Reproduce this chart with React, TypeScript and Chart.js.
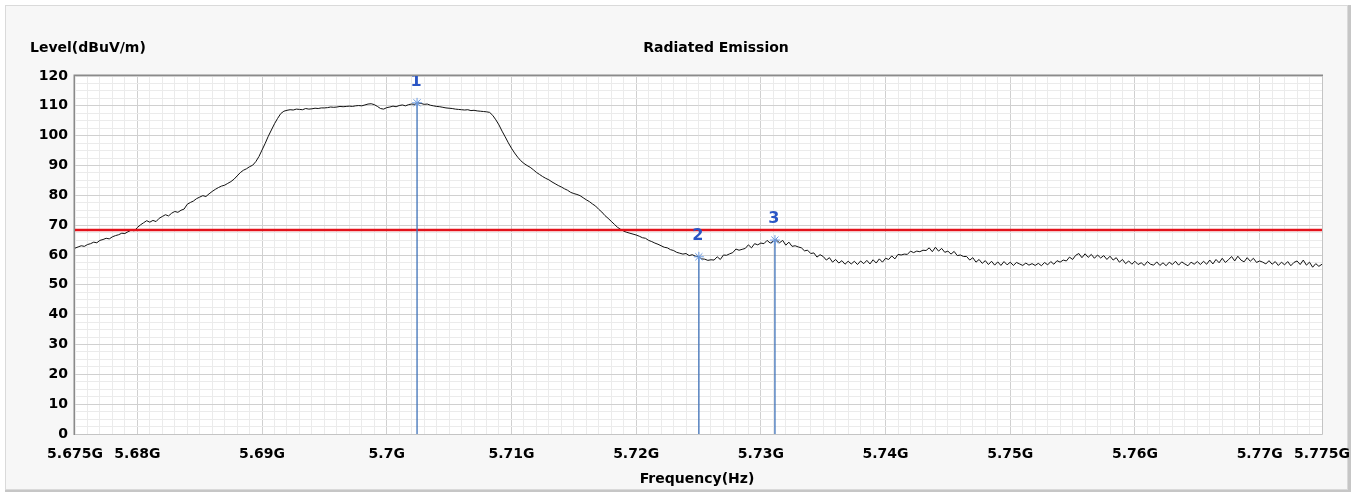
import { useEffect, useRef } from "react";
import { Chart, registerables } from "chart.js";

Chart.register(...registerables);

// ---- data ----
const FREQ_START = 5.675; // GHz, first sample of the trace
const FREQ_STEP = 0.00025; // GHz between samples
const LEVEL_TRACE = [
  62.3, 62.7, 63.1, 62.9, 63.5, 63.8, 64.3, 64.1, 64.9, 65.2, 65.6, 65.4, 66.1, 66.5, 66.8, 67.3, 67.2, 67.8, 68.3, 68.1,
  69.2, 70.1, 70.8, 71.5, 71.0, 71.6, 71.2, 72.3, 72.9, 73.5, 73.1, 74.0, 74.6, 74.3, 75.0, 75.4, 77.0, 77.6, 78.1, 78.9,
  79.4, 79.9, 79.6, 80.5, 81.3, 82.0, 82.6, 83.1, 83.4, 84.0, 84.6, 85.4, 86.5, 87.6, 88.4, 88.9, 89.6, 90.1, 91.3, 93.0,
  95.2, 97.4, 99.8, 101.9, 104.0, 105.8, 107.4, 108.2, 108.5, 108.7, 108.6, 108.9, 108.8, 108.7, 109.1, 108.9, 109.0, 109.2, 109.1, 109.3,
  109.3, 109.4, 109.6, 109.5, 109.6, 109.8, 109.7, 109.8, 109.9, 109.8, 110.0, 110.1, 110.0, 110.3, 110.6, 110.7, 110.4, 109.8, 109.1, 108.9,
  109.4, 109.6, 109.9, 109.7, 110.1, 110.3, 110.0, 110.4, 110.6, 110.5, 111.0, 110.8, 110.5, 110.6, 110.2, 110.0, 109.8, 109.7, 109.5, 109.3,
  109.2, 109.1, 108.9, 108.8, 108.7, 108.6, 108.7, 108.4, 108.5, 108.3, 108.2, 108.1, 108.0, 107.8, 106.8, 105.3, 103.6, 101.5, 99.6, 97.6,
  95.8, 94.2, 92.8, 91.6, 90.7, 90.0, 89.4, 88.6, 87.7, 87.0, 86.3, 85.7, 85.2, 84.5, 83.9, 83.3, 82.8, 82.2, 81.7, 81.0,
  80.6, 80.3, 79.9, 79.2, 78.5, 77.9, 77.1, 76.4, 75.3, 74.4, 73.2, 72.3, 71.3, 70.3, 69.3, 68.6, 68.0, 67.6, 67.3, 67.0,
  66.7, 66.3, 65.8, 65.6, 64.9, 64.5, 64.0, 63.6, 63.1, 62.6, 62.4, 61.8, 61.5, 60.9, 60.6, 60.3, 60.5, 59.8, 60.1, 59.6,
  59.4, 58.7, 58.6, 58.2, 58.4, 58.3, 59.4, 58.5, 60.0, 59.9, 60.4, 60.8, 62.0, 61.6, 61.9, 62.2, 63.4, 62.4, 63.8, 63.4,
  64.0, 63.8, 64.9, 64.0, 64.6, 65.0, 64.1, 64.9, 63.3, 64.3, 62.9, 63.1, 62.7, 62.4, 61.4, 61.6, 60.5, 60.7, 59.3, 60.1,
  59.5, 58.3, 59.1, 57.6, 58.5, 57.3, 58.1, 56.9, 57.9, 57.0, 57.9, 56.8, 58.0, 57.1, 58.2, 57.0, 58.4, 57.3, 58.7, 57.6,
  58.9, 58.5, 59.7, 58.7, 60.2, 60.0, 60.3, 60.2, 61.3, 60.8, 61.3, 61.1, 61.6, 61.5, 62.4, 61.1, 62.6, 61.3, 62.2, 60.9,
  61.3, 60.3, 61.2, 59.8, 60.0, 59.5, 59.5, 58.3, 59.1, 57.6, 58.5, 57.2, 58.1, 56.8, 57.9, 56.6, 57.7, 56.5, 57.8, 56.7,
  57.6, 56.5, 57.5, 57.0, 56.5, 57.3, 56.6, 57.1, 56.5, 57.2, 56.4, 57.5, 56.7, 57.8, 56.9, 58.1, 57.6, 58.3, 58.0, 59.3,
  58.5, 59.9, 60.5, 59.1, 60.4, 59.2, 60.2, 58.9, 60.0, 59.0, 59.8, 58.5, 59.6, 58.3, 59.1, 57.6, 58.5, 57.1, 58.0, 56.9,
  57.9, 56.8, 57.4, 56.5, 57.8, 56.9, 56.6, 57.7, 56.5, 57.4, 56.4, 57.6, 56.8, 57.9, 56.6, 57.7, 57.0, 56.4, 57.6, 56.9,
  57.8, 56.8, 57.9, 56.9, 58.3, 57.0, 58.5, 57.4, 58.9, 57.5, 58.4, 59.5, 58.0, 59.6, 58.3, 57.7, 59.1, 57.9, 58.9, 57.5,
  58.0, 57.6, 57.0, 58.1, 56.9, 57.8, 56.5, 57.6, 56.7, 57.8, 56.4, 57.5, 58.0, 56.8, 58.3, 56.6, 57.6, 55.9, 57.1, 56.2,
  56.9,
];
const LIMIT_LEVEL = 68.4;
const MARKER_NAMES = ["1", "2", "3"];
const MARKER_FREQS = [5.70243, 5.72503, 5.73113];
const MARKER_LEVELS = [111.0, 59.4, 65.0];
const X_MIN = 5.675;
const X_MAX = 5.775;
const Y_MIN = 0;
const Y_MAX = 120;
const X_TICK_VALUES = [5.675, 5.68, 5.69, 5.7, 5.71, 5.72, 5.73, 5.74, 5.75, 5.76, 5.77, 5.775];
const X_TICK_LABELS = ["5.675G", "5.68G", "5.69G", "5.7G", "5.71G", "5.72G", "5.73G", "5.74G", "5.75G", "5.76G", "5.77G", "5.775G"];
const Y_TICK_VALUES = [0, 10, 20, 30, 40, 50, 60, 70, 80, 90, 100, 110, 120];
const Y_TICK_LABELS = ["0", "10", "20", "30", "40", "50", "60", "70", "80", "90", "100", "110", "120"];
const TITLE = "Radiated Emission";
const Y_TITLE = "Level(dBuV/m)";
const X_TITLE = "Frequency(Hz)";

const W = 1361;
const H = 493;
const FONT = "'DejaVu Sans', sans-serif";

export default function App() {
  const ref = useRef<HTMLCanvasElement | null>(null);

  useEffect(() => {
    const canvas = ref.current;
    if (!canvas) return;

    const frame = {
      id: "frame",
      beforeDraw(chart: any) {
        const { ctx, chartArea } = chart;
        ctx.save();
        ctx.fillStyle = "#ffffff";
        ctx.fillRect(0, 0, W, H);
        ctx.fillStyle = "#f7f7f7";
        ctx.fillRect(5, 5, 1343, 485);
        ctx.strokeStyle = "#dadada";
        ctx.lineWidth = 1;
        ctx.strokeRect(5.5, 5.5, 1342, 484);
        ctx.fillStyle = "#c6c6c6";
        ctx.fillRect(1348, 5, 3, 487);
        ctx.fillRect(5, 490, 1346, 2);
        ctx.fillStyle = "#ffffff";
        ctx.fillRect(chartArea.left, chartArea.top, chartArea.right - chartArea.left, chartArea.bottom - chartArea.top);
        ctx.restore();
      },
      afterDraw(chart: any) {
        const { ctx, chartArea, scales } = chart;
        const { left, right, top, bottom } = chartArea;
        ctx.save();
        // plot border
        ctx.lineWidth = 1;
        ctx.strokeStyle = "#c4c4c4";
        ctx.beginPath();
        ctx.moveTo(right + 0.5, top);
        ctx.lineTo(right + 0.5, bottom + 0.5);
        ctx.lineTo(left, bottom + 0.5);
        ctx.stroke();
        ctx.strokeStyle = "#8a8a8a";
        ctx.lineWidth = 1.5;
        ctx.beginPath();
        ctx.moveTo(left - 0.75, bottom + 1);
        ctx.lineTo(left - 0.75, top - 0.75);
        ctx.lineTo(right + 1, top - 0.75);
        ctx.stroke();

        // titles
        ctx.fillStyle = "#000000";
        ctx.font = `bold 14px ${FONT}`;
        ctx.textBaseline = "middle";
        ctx.textAlign = "left";
        ctx.fillText(Y_TITLE, 30, 48);
        ctx.textAlign = "center";
        ctx.fillText(TITLE, 716, 48);
        ctx.fillText(X_TITLE, 697, 479);

        // marker labels (clipped to the plot)
        ctx.beginPath();
        ctx.rect(left, top, right - left, bottom - top);
        ctx.clip();
        ctx.fillStyle = "#2a55c5";
        ctx.font = `bold 16px ${FONT}`;
        ctx.textAlign = "center";
        ctx.textBaseline = "alphabetic";
        MARKER_FREQS.forEach((f, i) => {
          const px = scales.x.getPixelForValue(f);
          const py = scales.y.getPixelForValue(MARKER_LEVELS[i]);
          ctx.fillText(MARKER_NAMES[i], px - 1, py - 17);
        });
        ctx.restore();
      },
    };

    const traceData = LEVEL_TRACE.map((v, i) => ({ x: FREQ_START + i * FREQ_STEP, y: v }));
    const markerSets = MARKER_FREQS.map((f, i) => ({
      label: "Marker " + MARKER_NAMES[i],
      data: [
        { x: f, y: Y_MIN },
        { x: f, y: MARKER_LEVELS[i] },
      ],
      borderColor: "#3d70b8",
      borderWidth: 1.3,
      pointRadius: [0, 5],
      pointStyle: "star",
      pointBorderColor: "#6b9ae0",
      pointBackgroundColor: "#6b9ae0",
      pointBorderWidth: 1,
      tension: 0,
    }));

    const isMajorX = (v: number) => Math.round(v * 1000) % 10 === 0;

    const chart = new Chart(canvas, {
      type: "line",
      data: {
        datasets: [
          ...markerSets,
          {
            label: "Limit",
            data: [
              { x: X_MIN, y: LIMIT_LEVEL },
              { x: X_MAX, y: LIMIT_LEVEL },
            ],
            borderColor: "#e3121b",
            borderWidth: 2.5,
            pointRadius: 0,
          },
          {
            label: "Level",
            data: traceData,
            borderColor: "#111111",
            borderWidth: 1,
            pointRadius: 0,
            tension: 0,
          },
        ] as any,
      },
      options: {
        responsive: false,
        animation: false,
        devicePixelRatio: 1,
        events: [],
        layout: { padding: { left: 0, top: 76, right: 39, bottom: 0 } },
        plugins: {
          legend: { display: false },
          tooltip: { enabled: false },
          title: { display: false },
        },
        scales: {
          x: {
            type: "linear",
            min: X_MIN,
            max: X_MAX,
            afterBuildTicks: (s: any) => {
              const t: any[] = [];
              for (let i = 0; i <= 100; i++) t.push({ value: Math.round((X_MIN + i * 0.001) * 1e4) / 1e4 });
              s.ticks = t;
            },
            afterFit: (s: any) => {
              s.height = 59;
              s.paddingLeft = 0;
              s.paddingRight = 0;
            },
            border: { display: false },
            grid: {
              drawTicks: false,
              lineWidth: 1,
              color: (c: any) => (c.tick && isMajorX(c.tick.value) ? "#d0d0d0" : "#ebebeb"),
            },
            ticks: {
              autoSkip: false,
              maxRotation: 0,
              minRotation: 0,
              padding: 12,
              color: "#000000",
              font: { family: FONT, size: 14, weight: "bold" },
              callback: (v: any) => {
                const idx = X_TICK_VALUES.findIndex((t) => Math.abs(t - Number(v)) < 1e-6);
                return idx >= 0 ? X_TICK_LABELS[idx] : "";
              },
            },
          },
          y: {
            type: "linear",
            min: Y_MIN,
            max: Y_MAX,
            afterBuildTicks: (s: any) => {
              const t: any[] = [];
              for (let i = 0; i <= 48; i++) t.push({ value: i * 2.5 });
              s.ticks = t;
            },
            afterFit: (s: any) => {
              s.width = 75;
            },
            border: { display: false },
            grid: {
              drawTicks: false,
              lineWidth: 1,
              color: (c: any) => (c.tick && c.tick.value % 10 === 0 ? "#d0d0d0" : "#ebebeb"),
            },
            ticks: {
              autoSkip: false,
              padding: 7,
              color: "#000000",
              font: { family: FONT, size: 14, weight: "bold" },
              callback: (v: any) => {
                const idx = Y_TICK_VALUES.indexOf(Number(v));
                return idx >= 0 ? Y_TICK_LABELS[idx] : "";
              },
            },
          },
        },
      },
      plugins: [frame],
    } as any);

    return () => chart.destroy();
  }, []);

  return (
    <div style={{ position: "absolute", left: 0, top: 0, width: W, height: H }}>
      <canvas ref={ref} width={W} height={H} style={{ display: "block", width: W, height: H }} />
    </div>
  );
}
